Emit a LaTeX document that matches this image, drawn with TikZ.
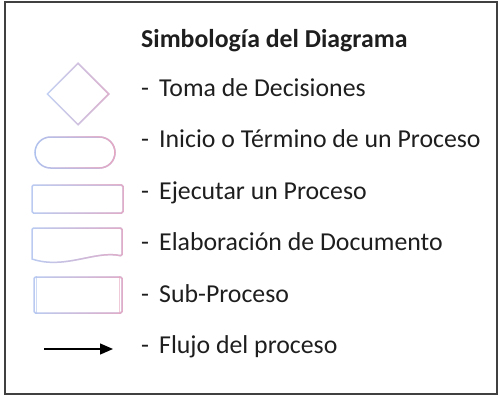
\documentclass[tikz,border=0pt]{standalone}
\usepackage{fontspec}
\setmainfont{Carlito}
\usetikzlibrary{arrows.meta,fadings,shapes.geometric}
\definecolor{bl}{HTML}{AFC2EE}
\definecolor{pk}{HTML}{E8A7C0}
\definecolor{frame}{HTML}{404040}
\definecolor{txt}{HTML}{1E1E1E}
\tikzfading[name=toright, left color=transparent!100, right color=transparent!0]
\tikzset{
  gstroke/.style={draw=bl, line width=1.5pt, postaction={draw=pk, line width=1.5pt, path fading=toright}},
  lbl/.style={anchor=base west, inner sep=0pt, font=\fontsize{25.8}{30}\selectfont, text=txt},
}
\newcommand{\legitem}[1]{\makebox[18pt][l]{-}#1}
\begin{document}
\begin{tikzpicture}[x=1pt,y=-1pt]
\useasboundingbox (0,0) rectangle (498,396);
\draw[frame, line width=2pt] (5,2) rectangle (497,394);
% title
\node[lbl, font=\fontsize{25.8}{30}\selectfont\bfseries] (title) at (141,48) {Simbología del Diagrama};
% symbols
\node[diamond, gstroke, draw opacity=0.75, minimum width=62pt, minimum height=62pt, inner sep=0pt] (dec) at (78,94) {};
\node[rectangle, rounded corners=15.5pt, gstroke, minimum width=80pt, minimum height=31pt, inner sep=0pt] (term) at (75,152.5) {};
\node[rectangle, rounded corners=1.5pt, gstroke, draw opacity=0.85, minimum width=91pt, minimum height=28pt, inner sep=0pt] (proc) at (77.5,199) {};
\path[gstroke, draw opacity=0.85, rounded corners=1.5pt] (32,228) -- (122,228) -- (122,256) [sharp corners] .. controls (95,250) and (65,270) .. (32,259) [rounded corners=1.5pt] -- cycle;
\node[rectangle, rounded corners=1.5pt, gstroke, draw opacity=0.85, minimum width=88pt, minimum height=36pt, inner sep=0pt] (sub) at (78,295) {};
\draw[bl, line width=1pt, opacity=0.6] ([xshift=3.5pt]sub.north west) -- ([xshift=3.5pt]sub.south west);
\draw[pk, line width=1pt, opacity=0.6] ([xshift=-3.5pt]sub.north east) -- ([xshift=-3.5pt]sub.south east);
\coordinate (a1) at (44,349);
\coordinate (a2) at (113,349);
\draw[-{Triangle[length=13pt,width=11pt]}, line width=1.3pt, black] (a1) -- (a2);
% labels
\node[lbl] (l1) at (141,96) {\legitem{Toma de Decisiones}};
\node[lbl] (l2) at (141,147) {\legitem{Inicio o Término de un Proceso}};
\node[lbl] (l3) at (141,199) {\legitem{Ejecutar un Proceso}};
\node[lbl] (l4) at (141,250) {\legitem{Elaboración de Documento}};
\node[lbl] (l5) at (141,302) {\legitem{Sub-Proceso}};
\node[lbl] (l6) at (141,353) {\legitem{Flujo del proceso}};
\end{tikzpicture}
\end{document}
